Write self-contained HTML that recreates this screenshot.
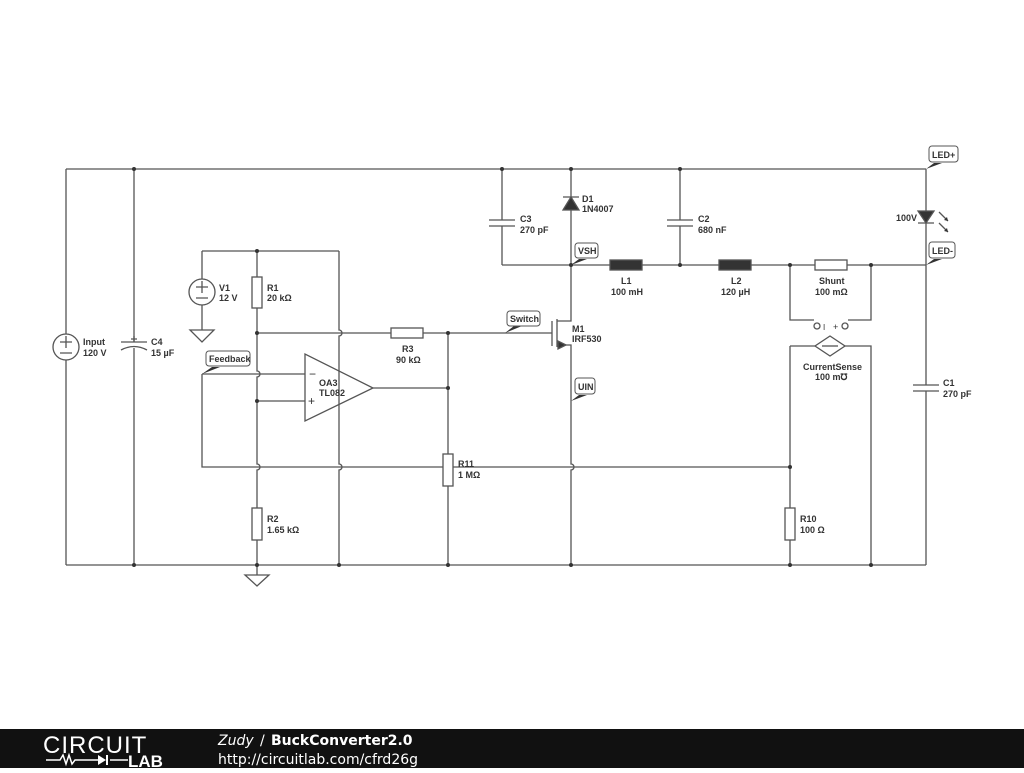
<!DOCTYPE html>
<html><head><style>
body{margin:0;background:#fff;width:1024px;height:768px;overflow:hidden}
svg text{font-family:"Liberation Sans",sans-serif;font-size:9px;font-weight:bold;fill:#333}
</style></head><body>
<svg width="1024" height="768" xmlns="http://www.w3.org/2000/svg">
<g stroke="#555" stroke-width="1.3" fill="none">
<path d="M66,169H926 M66,565H926 M66,169V334 M66,360V565"/>
<path d="M134,169V342 M134,348V565 M121,342H147 M121,350Q134,343 147,350"/>
<path d="M202,251H339 M202,251V279 M202,305V330 M190,330H214L202,342Z"/>
<path d="M257,251V277 M257,308V371 A3,3 0 0 1 257,377 V464 A3,3 0 0 1 257,470 V508 M257,540V575 M245,575H269L257,586Z"/>
<rect x="252" y="277" width="10" height="31"/>
<path d="M339,251V330 A3,3 0 0 1 339,336 V464 A3,3 0 0 1 339,470 V565"/>
<path d="M257,333H391 M423,333H552"/>
<rect x="391" y="328" width="32" height="10"/>
<path d="M202,374H305 M257,401H305 M373,388H448"/>
<path d="M305,354V421L373,388Z"/>
<path d="M202,374V467H443 M453,467H790"/>
<path d="M448,333V454 M448,486V565"/>
<rect x="443" y="454" width="10" height="32"/>
<rect x="252" y="508" width="10" height="32"/>
<path d="M502,169V220 M502,226V265 M489,220H515 M489,226H515"/>
<path d="M502,265H610 M642,265H719 M751,265H815 M847,265H926"/>
<rect x="610" y="260" width="32" height="10" fill="#333"/>
<rect x="719" y="260" width="32" height="10" fill="#333"/>
<rect x="815" y="260" width="32" height="10"/>
<path d="M571,169V265 M563,197H579"/>
<path d="M571,197L563,210H579Z" fill="#333"/>
<path d="M680,169V220 M680,226V265 M667,220H693 M667,226H693"/>
<path d="M571,265V321H557 M557,345H571V464 A3,3 0 0 1 571,470 V565 M552,321V346 M557,319V347"/>
<path d="M566,345L558,341V349Z" fill="#333"/>
<path d="M790,265V320H814 M871,265V320H848"/>
<circle cx="817" cy="326" r="3"/><circle cx="845" cy="326" r="3"/>
<path d="M790,346H815 M845,346H871V565 M790,346V508 M790,540V565"/>
<path d="M830,336L845,346L830,356L815,346Z"/>
<path d="M822,346H838"/>
<rect x="785" y="508" width="10" height="32"/>
<path d="M926,169V385 M926,391V565 M913,385H939 M913,391H939 M918,223H934"/>
<path d="M918,211H934L926,223Z" fill="#333"/>
<path d="M939,212L948,221 M939,223L948,232"/>
<circle cx="66" cy="347" r="13"/>
<circle cx="202" cy="292" r="13"/>
<path d="M60,342H72 M66,336V348 M60,353H72 M196,287H208 M202,281V293 M196,298H208 M131,339H137 M134,336V342"/>
</g>
<path d="M948,221l-4,-1 3,-3Z M948,232l-4,-1 3,-3Z" fill="#333"/>
<g fill="#333">
<circle cx="134" cy="169" r="2"/><circle cx="502" cy="169" r="2"/><circle cx="571" cy="169" r="2"/><circle cx="680" cy="169" r="2"/>
<circle cx="257" cy="251" r="2"/><circle cx="257" cy="333" r="2"/><circle cx="448" cy="333" r="2"/><circle cx="257" cy="401" r="2"/><circle cx="448" cy="388" r="2"/>
<circle cx="134" cy="565" r="2"/><circle cx="257" cy="565" r="2"/><circle cx="339" cy="565" r="2"/><circle cx="448" cy="565" r="2"/><circle cx="571" cy="565" r="2"/><circle cx="790" cy="565" r="2"/><circle cx="871" cy="565" r="2"/>
<circle cx="571" cy="265" r="2"/><circle cx="680" cy="265" r="2"/><circle cx="790" cy="265" r="2"/><circle cx="871" cy="265" r="2"/><circle cx="790" cy="467" r="2"/>
</g>
<g>
<text x="83" y="345">Input</text><text x="83" y="356">120 V</text>
<text x="151" y="345">C4</text><text x="151" y="356">15 µF</text>
<text x="219" y="291">V1</text><text x="219" y="301">12 V</text>
<text x="267" y="291">R1</text><text x="267" y="301">20 kΩ</text>
<text x="402" y="352">R3</text><text x="396" y="363">90 kΩ</text>
<text x="319" y="386">OA3</text><text x="319" y="396">TL082</text>
<text x="309" y="378" style="font-weight:normal;font-size:12px">−</text>
<text x="308" y="405" style="font-weight:normal;font-size:12px">+</text>
<text x="458" y="467">R11</text><text x="458" y="478">1 MΩ</text>
<text x="267" y="522">R2</text><text x="267" y="533">1.65 kΩ</text>
<text x="520" y="222">C3</text><text x="520" y="233">270 pF</text>
<text x="582" y="202">D1</text><text x="582" y="212">1N4007</text>
<text x="698" y="222">C2</text><text x="698" y="233">680 nF</text>
<text x="621" y="284">L1</text><text x="611" y="295">100 mH</text>
<text x="731" y="284">L2</text><text x="721" y="295">120 µH</text>
<text x="819" y="284">Shunt</text><text x="815" y="295">100 mΩ</text>
<text x="572" y="332">M1</text><text x="572" y="342">IRF530</text>
<text x="803" y="370">CurrentSense</text><text x="815" y="380">100 m℧</text>
<text x="896" y="221">100V</text>
<text x="943" y="386">C1</text><text x="943" y="397">270 pF</text>
<text x="800" y="522">R10</text><text x="800" y="533">100 Ω</text>
<text x="823" y="330" style="font-weight:normal;font-size:8px">I</text>
<text x="833" y="330" style="font-weight:normal">+</text>
</g>
<g font-family="Liberation Sans" font-size="9" font-weight="bold">
<g><path d="M202,374L212,367H220Z" fill="#333"/><rect x="206" y="351" width="44" height="15" rx="3" fill="#fff" stroke="#555"/><text x="209" y="362">Feedback</text></g>
<g><path d="M505,333L514,326H522Z" fill="#333"/><rect x="507" y="311" width="33" height="15" rx="3" fill="#fff" stroke="#555"/><text x="510" y="322">Switch</text></g>
<g><path d="M571,265L579,259H587Z" fill="#333"/><rect x="575" y="243" width="23" height="15" rx="3" fill="#fff" stroke="#555"/><text x="578" y="254">VSH</text></g>
<g><path d="M571,401L579,395H587Z" fill="#333"/><rect x="575" y="378" width="20" height="16" rx="3" fill="#fff" stroke="#555"/><text x="578" y="390">UIN</text></g>
<g><path d="M926,169L934,163H942Z" fill="#333"/><rect x="929" y="146" width="29" height="16" rx="3" fill="#fff" stroke="#555"/><text x="932" y="158">LED+</text></g>
<g><path d="M926,265L934,259H942Z" fill="#333"/><rect x="929" y="242" width="26" height="16" rx="3" fill="#fff" stroke="#555"/><text x="932" y="254">LED-</text></g>
</g>
<rect x="0" y="729" width="1024" height="39" fill="#111"/>
<text x="43" y="753" style="font-size:24px;font-weight:normal;fill:#fff;letter-spacing:1px">CIRCUIT</text>
<path d="M46,760H60L63,755 66,764 69,755 72,764 75,760H98 M110,760H128" stroke="#fff" stroke-width="1.5" fill="none"/>
<path d="M98,755V765L106,760Z M106,755H108V765H106Z" fill="#fff"/>
<text x="128" y="767" style="font-size:17px;fill:#fff;font-weight:bold">LAB</text>
<text x="218" y="745" style="font-family:'DejaVu Sans',sans-serif;font-size:14px;fill:#fff;font-weight:normal;font-style:italic">Zudy</text>
<text x="260" y="745" style="font-family:'DejaVu Sans',sans-serif;font-size:14px;fill:#fff;font-weight:normal">/</text>
<text x="271" y="745" style="font-family:'DejaVu Sans',sans-serif;font-size:14px;fill:#fff;font-weight:bold">BuckConverter2.0</text>
<text x="218" y="764" style="font-family:'DejaVu Sans',sans-serif;font-size:14px;fill:#fff;font-weight:normal">http://circuitlab.com/cfrd26g</text>
</svg>
</body></html>
